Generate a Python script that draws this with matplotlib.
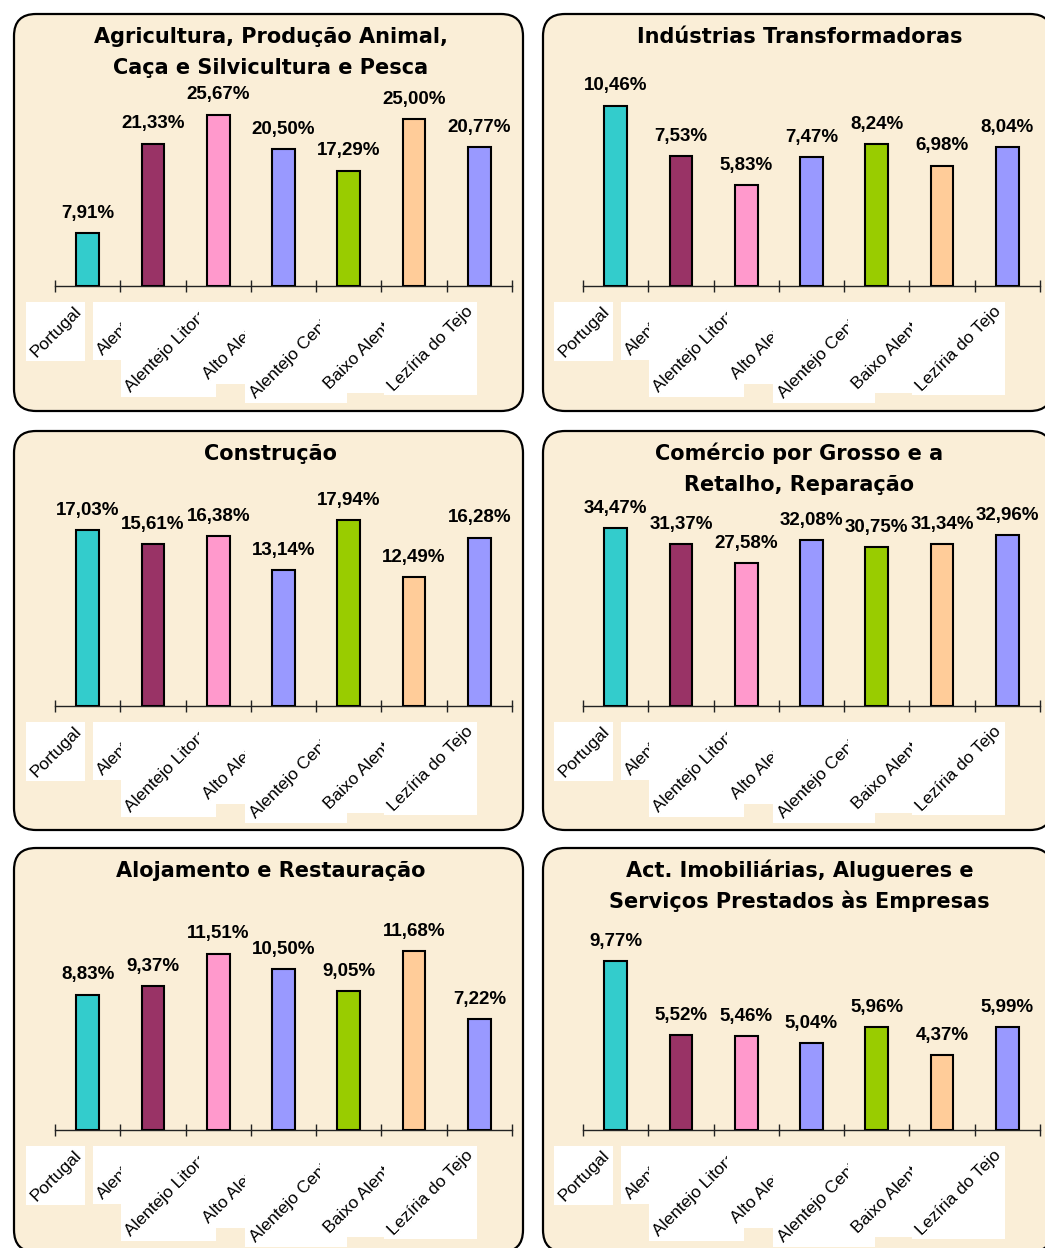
import matplotlib
matplotlib.use('Agg')
import matplotlib.pyplot as plt
from matplotlib.patches import FancyBboxPatch, Rectangle
from matplotlib.transforms import ScaledTranslation
import numpy as np

W, H = 1045, 1248

categories = ["Portugal", "Alentejo", "Alentejo Litoral", "Alto Alentejo",
              "Alentejo Central", "Baixo Alentejo", "Lezíria do Tejo"]

agricultura = [7.91, 21.33, 25.67, 20.50, 17.29, 25.00, 20.77]
industrias = [10.46, 7.53, 5.83, 7.47, 8.24, 6.98, 8.04]
construcao = [17.03, 15.61, 16.38, 13.14, 17.94, 12.49, 16.28]
comercio = [34.47, 31.37, 27.58, 32.08, 30.75, 31.34, 32.96]
alojamento = [8.83, 9.37, 11.51, 10.50, 9.05, 11.68, 7.22]
imobiliarias = [9.77, 5.52, 5.46, 5.04, 5.96, 4.37, 5.99]

titles = [
    ["Agricultura, Produção Animal,", "Caça e Silvicultura e Pesca"],
    ["Indústrias Transformadoras"],
    ["Construção"],
    ["Comércio por Grosso e a", "Retalho, Reparação"],
    ["Alojamento e Restauração"],
    ["Act. Imobiliárias, Alugueres e", "Serviços Prestados às Empresas"],
]
series = [agricultura, industrias, construcao, comercio, alojamento, imobiliarias]
y_max = [31, 12, 20, 40, 13.5, 12]

bar_colors = ['#33CCCC', '#993366', '#FF99CC', '#9999FF', '#99CC00', '#FFCC99', '#9999FF']
panel_bg = '#FAEED7'

# panel layout in pixels (y from top)
col_x = [(14, 523), (543, 1052)]
row_y = [(14, 411), (431, 830), (848, 1252)]
axes_x = [(55, 512), (583, 1040)]
axes_base = [286, 706, 1130]
axes_h = 207

fig = plt.figure(figsize=(W / 100, H / 100), dpi=100)
fig.patch.set_facecolor('white')

axes = []
for k in range(6):
    r, c = divmod(k, 2)
    x0, x1 = col_x[c]
    y0, y1 = row_y[r]
    panel = FancyBboxPatch((x0 / W, 1 - y1 / H), (x1 - x0) / W, (y1 - y0) / H,
                           boxstyle="round,pad=0,rounding_size=%f" % (22 / W),
                           mutation_aspect=W / H,
                           transform=fig.transFigure, facecolor=panel_bg,
                           edgecolor='black', linewidth=1.6, zorder=-1)
    fig.patches.append(panel)

    cx = (x0 + x1) / 2
    for i, line in enumerate(titles[k]):
        fig.text(cx / W + 2 / W, 1 - (y0 + 29 + 31 * i) / H, line, ha='center', va='baseline',
                 fontsize=15, fontweight='bold', family='DejaVu Sans', zorder=5)

    ax0, ax1 = axes_x[c]
    base = axes_base[r]
    ax = fig.add_axes([ax0 / W, 1 - base / H, (ax1 - ax0) / W, axes_h / H])
    ax.set_zorder(3)
    ax.patch.set_visible(False)
    vals = series[k]
    x = np.arange(len(categories))
    ax.bar(x, vals, width=0.35, color=bar_colors, edgecolor='black', linewidth=1.5, zorder=3)
    ax.set_xlim(-0.5, len(categories) - 0.5)
    ax.set_ylim(0, y_max[k])
    for s in ['left', 'right', 'top']:
        ax.spines[s].set_visible(False)
    ax.spines['bottom'].set_linewidth(1.0)
    ax.spines['bottom'].set_color('#222222')
    ax.set_yticks([])
    ax.set_xticks(np.arange(len(categories) + 1) - 0.5)
    ax.set_xticklabels([])
    ax.tick_params(axis='x', direction='inout', length=8, width=1, color='#222222')
    for xi, v in zip(x, vals):
        ax.annotate(("%.2f" % v).replace('.', ',') + '%', (xi, v), xytext=(0, 8),
                    textcoords='offset points', ha='center', va='bottom',
                    fontsize=13.5, fontweight='bold', family='Liberation Sans')
    # rotated category labels, each on a white box drawn over the previous one
    off = ScaledTranslation(-9 / 100, -22.5 / 100, fig.dpi_scale_trans)
    labels = []
    for i, name in enumerate(categories):
        t = ax.text(i, 0, name, transform=ax.get_xaxis_transform() + off,
                    rotation=45, rotation_mode='anchor', ha='right', va='center',
                    fontsize=12.5, family='Liberation Sans', clip_on=False,
                    zorder=21 + 2 * i)
        labels.append(t)
    axes.append((ax, labels))

fig.canvas.draw()
renderer = fig.canvas.get_renderer()
for ax, labels in axes:
    inv = ax.transAxes.inverted()
    for i, t in enumerate(labels):
        bb = t.get_window_extent(renderer)
        (bx0, by0), (bx1, by1) = inv.transform([(bb.x0 - 1.5, bb.y0 - 1.5), (bb.x1 + 1.5, bb.y1 + 1.5)])
        ax.add_patch(Rectangle((bx0, by0), bx1 - bx0, by1 - by0, transform=ax.transAxes,
                               facecolor='white', edgecolor='none', clip_on=False,
                               zorder=20 + 2 * i))

fig.savefig('out.png', dpi=100, facecolor='white')
